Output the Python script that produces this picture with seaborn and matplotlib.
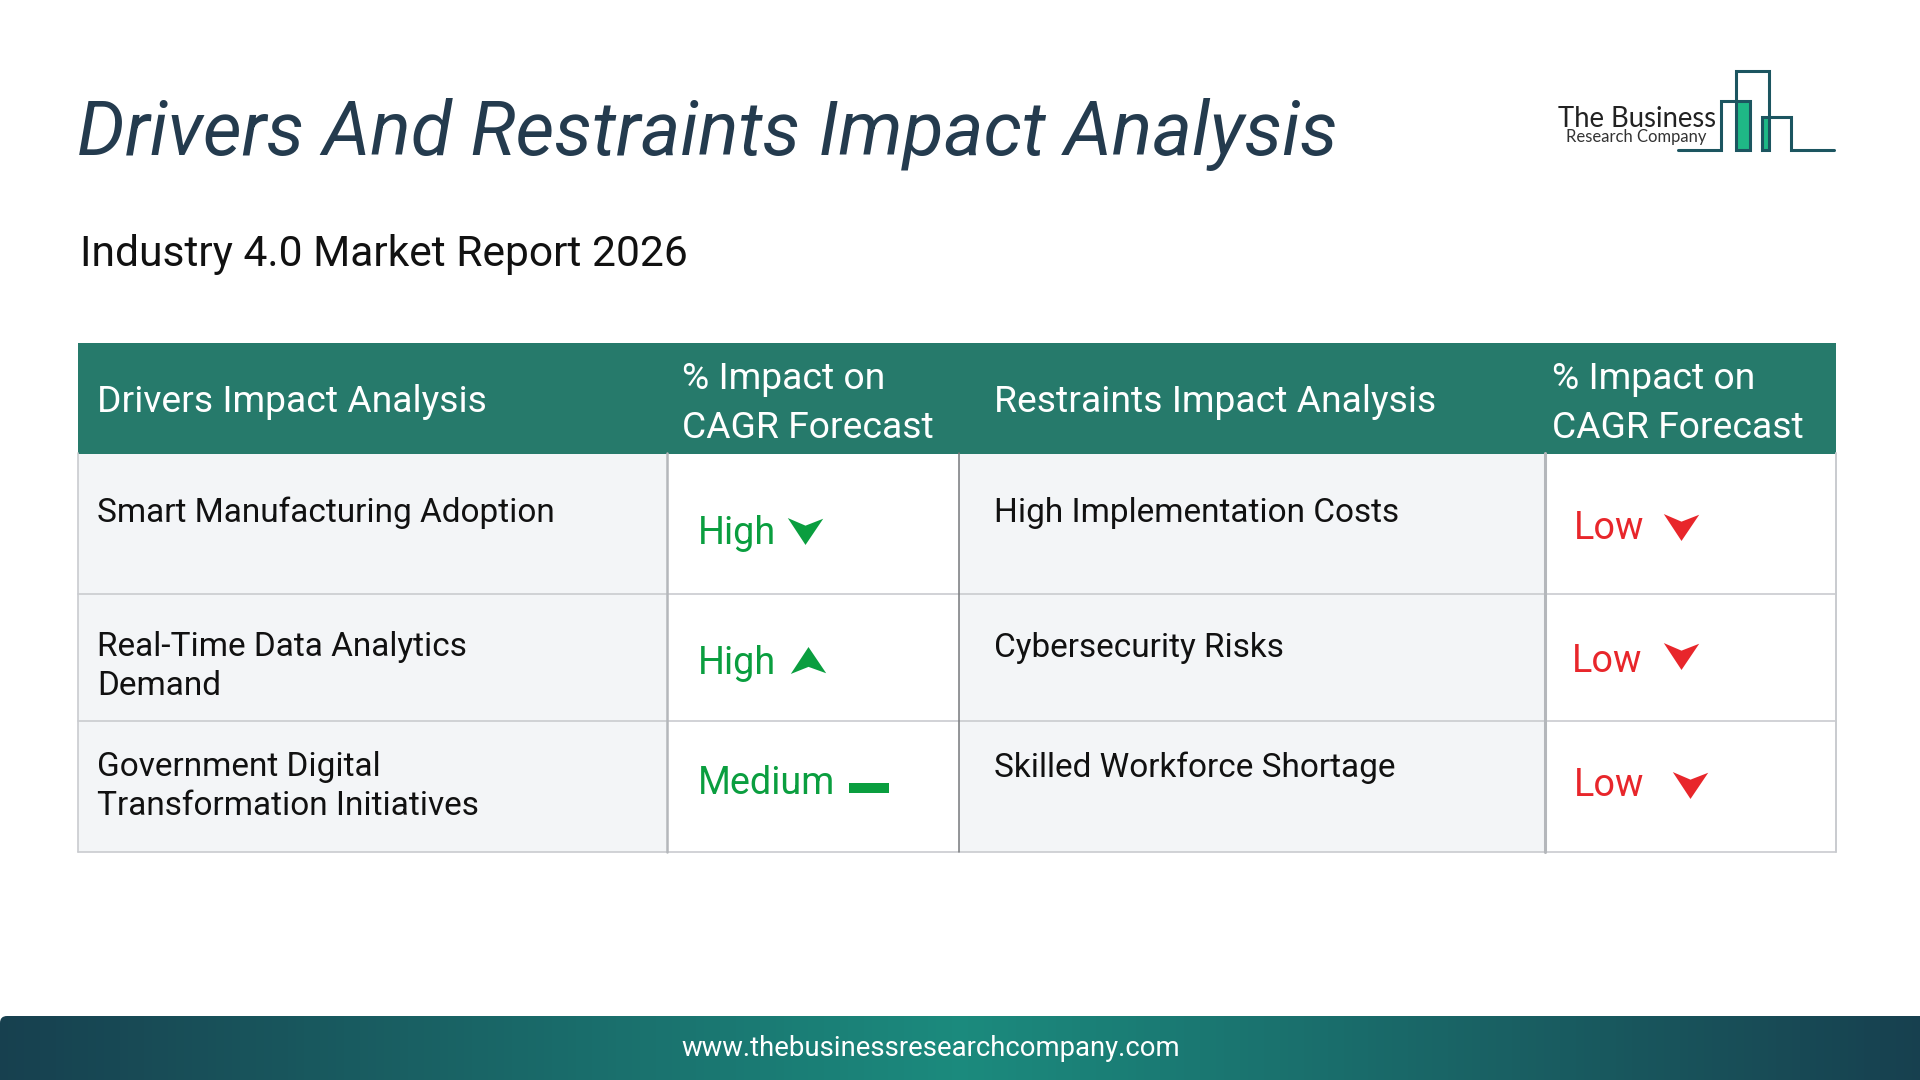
import numpy as np
import matplotlib
matplotlib.use('Agg')
import matplotlib.pyplot as plt
import seaborn as sns
from matplotlib.colors import LinearSegmentedColormap
from matplotlib.patches import PathPatch, Rectangle
from matplotlib.path import Path

# Table content
title = 'Drivers And Restraints Impact Analysis'
subtitle = 'Industry 4.0 Market Report 2026'
website = 'www.thebusinessresearchcompany.com'
header_left = 'Drivers Impact Analysis'
header_right = 'Restraints Impact Analysis'
header_impact = ['% Impact on', 'CAGR Forecast']
drivers = [['Smart Manufacturing Adoption'],
           ['Real-Time Data Analytics', 'Demand'],
           ['Government Digital', 'Transformation Initiatives']]
driver_levels = ['High', 'High', 'Medium']
driver_trend = ['down', 'up', 'flat']
restraints = ['High Implementation Costs', 'Cybersecurity Risks', 'Skilled Workforce Shortage']
restraint_levels = ['Low', 'Low', 'Low']
restraint_trend = ['down', 'down', 'down']

# Layout, in pixels of the 1920x1080 canvas
col_edges = [78, 667, 959, 1545, 1836]
row_edges = [453, 594, 721, 852]
driver_base = [[522], [656, 695], [776, 815]]
restraint_base = [522, 657, 777]
driver_level_x = [698, 698, 698]
driver_level_base = [544, 674, 794]
driver_mark_x = [805, 808, 869]
driver_mark_y = [531, 660, 788]
restraint_level_x = [1574, 1572, 1574]
restraint_level_base = [539, 672, 796]
restraint_mark_x = [1681, 1681, 1690]
restraint_mark_y = [527, 656, 785]

GREEN = '#0a9e3f'
RED = '#e8262b'
TEAL = '#267a6b'
GRID = '#c9cbcf'

markers = {
    'down': Path([(-1, .76), (0, .33), (1, .72), (0, -.76), (-1, .76)], closed=True),
    'up': Path([(-1, -.76), (0, -.36), (1, -.72), (0, .76), (-1, -.76)], closed=True),
    'flat': Path([(-1, -.25), (1, -.25), (1, .25), (-1, .25), (-1, -.25)], closed=True),
}

sns.set_theme(style='white')
plt.rcParams['font.family'] = ['Roboto', 'DejaVu Sans']

fig = plt.figure(figsize=(19.2, 10.8), dpi=100, facecolor='white')

# Footer band
foot_ax = fig.add_axes([0, 0, 1, 64 / 1080])
foot_cmap = LinearSegmentedColormap.from_list('foot', ['#1b8a7d', '#17404f'])
sns.heatmap(np.abs(np.linspace(-1, 1, 240)).reshape(1, -1), ax=foot_ax, cmap=foot_cmap,
            cbar=False, xticklabels=False, yticklabels=False, vmin=0, vmax=1)

ax = fig.add_axes([0, 0, 1, 1], zorder=2)
ax.set_xlim(0, 1920)
ax.set_ylim(1080, 0)
ax.axis('off')
ax.patch.set_visible(False)

# rounded corner of the footer
ax.add_patch(PathPatch(Path([(0, 1016), (7, 1016), (0, 1016), (0, 1023), (0, 1016)],
                            [Path.MOVETO, Path.LINETO, Path.CURVE3, Path.CURVE3, Path.CLOSEPOLY]),
                       fc='white', ec='none'))
ax.text(931, 1049, website, color='white', fontsize=19.8, ha='center', va='center')

# Titles
ax.text(77, 155, title, color='#243b4e', fontsize=54.25, style='italic', va='baseline')
ax.text(80, 266, subtitle, color='#111111', fontsize=30.7, va='baseline')

# Table header and cells
ax.add_patch(Rectangle((col_edges[0], 343), col_edges[-1] - col_edges[0], 111, fc=TEAL, ec='none'))
for i in [0, 2]:
    ax.add_patch(Rectangle((col_edges[i], row_edges[0]), col_edges[i + 1] - col_edges[i],
                           row_edges[-1] - row_edges[0], fc='#f3f5f7', ec='none', zorder=0.5))
for y in row_edges[1:]:
    ax.plot([col_edges[0], col_edges[-1]], [y, y], color=GRID, lw=1.2)
ax.plot([col_edges[0], col_edges[0]], [row_edges[0], row_edges[-1]], color=GRID, lw=1.2)
ax.plot([col_edges[-1], col_edges[-1]], [row_edges[0], row_edges[-1]], color=GRID, lw=1.4)
ax.plot([col_edges[1], col_edges[1]], [row_edges[0], row_edges[-1]], color='#b4b7bb', lw=1.8)
ax.plot([col_edges[2], col_edges[2]], [row_edges[0], row_edges[-1]], color='#77797c', lw=1.1)
ax.plot([col_edges[3], col_edges[3]], [row_edges[0], row_edges[-1]], color='#b4b7bb', lw=2.2)

ax.text(97, 402, header_left, color='white', fontsize=26.85, va='center')
ax.text(993.5, 402, header_right, color='white', fontsize=26.85, va='center')
for x in [682, 1551.5]:
    ax.text(x, 379, header_impact[0], color='white', fontsize=26.85, va='center')
    ax.text(x, 428, header_impact[1], color='white', fontsize=26.85, va='center')

for lines, bases in zip(drivers, driver_base):
    for line, base in zip(lines, bases):
        ax.text(97, base, line, color='#111111', fontsize=24, va='baseline')
for name, base in zip(restraints, restraint_base):
    ax.text(994, base, name, color='#111111', fontsize=24, va='baseline')

for lab, x, base in zip(driver_levels, driver_level_x, driver_level_base):
    ax.text(x, base, lab, color=GREEN, fontsize=27.2, va='baseline')
for lab, x, base in zip(restraint_levels, restraint_level_x, restraint_level_base):
    ax.text(x, base, lab, color=RED, fontsize=27.2, va='baseline')

# Trend marks
for trend, x, y in zip(driver_trend, driver_mark_x, driver_mark_y):
    size = 830 if trend == 'flat' else 650
    sns.scatterplot(x=[x], y=[y], marker=markers[trend], s=size, color=GREEN, linewidth=0, ax=ax, legend=False)
for trend, x, y in zip(restraint_trend, restraint_mark_x, restraint_mark_y):
    sns.scatterplot(x=[x], y=[y], marker=markers[trend], s=650, color=RED, linewidth=0, ax=ax, legend=False)

# Logo
ax.add_patch(Rectangle((1736, 101), 14, 49, fc='#1fb886', ec='none'))
ax.add_patch(Rectangle((1762, 117), 7, 33, fc='#1fb886', ec='none'))
logo_x = [1678, 1721, 1721, 1750, 1750, 1736, 1736, 1769, 1769, 1762, 1762, 1791, 1791, 1834]
logo_y = [150, 150, 101, 101, 150, 150, 71, 71, 150, 150, 117, 117, 150, 150]
ax.plot(logo_x, logo_y, color='#1c5560', lw=2.2, solid_joinstyle='miter')
ax.text(1558, 127, 'The Business', color='#222222', fontsize=19.8, family='Lato', va='baseline')
ax.text(1566, 142, 'Research Company', color='#333333', fontsize=12, family='Lato', va='baseline')

ax.set_xlim(0, 1920)
ax.set_ylim(1080, 0)
ax.set_xlabel('')
ax.set_ylabel('')
fig.savefig('out.png', dpi=100)
